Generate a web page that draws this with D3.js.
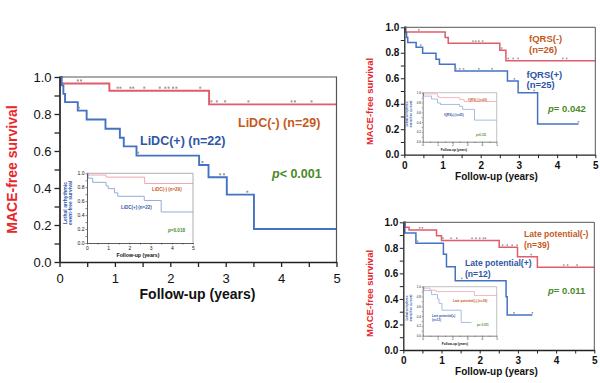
<!DOCTYPE html>
<html><head><meta charset="utf-8">
<script src="https://cdn.jsdelivr.net/npm/d3@7"></script>
<style>body{margin:0;background:#fff}svg{display:block}</style>
</head><body><svg id="c" width="600" height="383"></svg>
<script>
// ---------- DATA ----------
const xTickYears = [0, 1, 2, 3, 4, 5];
const yTickVals = [0, 0.2, 0.4, 0.6, 0.8, 1.0];

// Panel A: LiDC
const lidcNeg = [[0,1],[0.03,0.965],[0.9,0.926],[2.7,0.852],[5,0.852]];
const lidcPos = [[0,1],[0.04,0.955],[0.07,0.909],[0.1,0.864],[0.33,0.818],[0.49,0.77],[0.83,0.72],[1.09,0.672],[1.16,0.625],[1.39,0.575],[2.52,0.524],[2.69,0.458],[3.02,0.364],[3.51,0.178],[5,0.178]];
const lidcNegCens = [0.33,0.39,1.05,1.1,1.28,1.33,1.53,1.81,1.91,1.97,2.05,2.11,2.54,2.74,2.84,2.99,3.41,4.19,4.25,4.55];
const lidcPosCens = [0.35,1.42,2.58,2.9,2.97,3.39];
const insLidcNeg = [[0,1],[0.05,0.975],[0.9,0.945],[2.72,0.853],[5,0.853]];
const insLidcPos = [[0,1],[0.05,0.93],[0.27,0.87],[0.9,0.82],[1.0,0.78],[1.3,0.72],[1.45,0.67],[2.7,0.61],[3.5,0.445],[5,0.445]];

// Panel B: fQRS
const fqrsNeg = [[0,1],[0.04,0.963],[1.07,0.92],[1.15,0.874],[2.5,0.82],[2.66,0.738],[5,0.738]];
const fqrsPos = [[0,1],[0.03,0.96],[0.06,0.92],[0.09,0.88],[0.31,0.843],[0.48,0.796],[0.83,0.749],[0.92,0.71],[1.33,0.657],[2.7,0.578],[2.98,0.487],[3.49,0.241],[4.56,0.241]];
const fqrsNegCens = [0.38,1.07,1.8,1.87,1.95,2.05,2.55,2.72,2.85,2.98,4.15,4.25];
const fqrsPosCens = [0.43,1.35,1.45,1.55,1.95,2.3,2.88,2.98,3.4,4.56];
const insFqrsNeg = [[0,1],[0.05,0.975],[1.0,0.92],[1.1,0.9],[2.5,0.86],[2.8,0.82],[5,0.82]];
const insFqrsPos = [[0,1],[0.05,0.93],[0.6,0.87],[1.0,0.79],[1.2,0.76],[2.5,0.72],[2.7,0.66],[3.5,0.44],[5,0.44]];

// Panel C: Late potential
const lpNeg = [[0,1],[0.05,0.962],[0.15,0.94],[0.87,0.895],[1.0,0.858],[2.51,0.804],[2.99,0.73],[3.51,0.648],[5,0.648]];
const lpPos = [[0,1],[0.04,0.917],[0.33,0.835],[1.05,0.75],[1.13,0.652],[1.36,0.543],[2.69,0.417],[2.72,0.274],[3.38,0.274]];
const lpNegCens = [0.43,0.5,1.04,1.25,1.4,1.8,1.9,2.0,2.1,2.15,2.6,2.72,2.85,2.98,3.35,4.2,4.3,4.55];
const lpPosCens = [0.37,1.53,2.9,3.38];
const insLpNeg = [[0,1],[0.08,0.97],[0.5,0.93],[0.9,0.9],[3.5,0.82],[5,0.82]];
const insLpPos = [[0,1],[0.08,0.92],[0.6,0.84],[1.0,0.75],[1.1,0.66],[1.3,0.52],[2.6,0.27],[3.3,0.27]];

// ---------- STYLE ----------
const FONT = '"Liberation Sans", Arial, sans-serif';
const RED_LINE = '#e35a6b', BLUE_LINE = '#4472c4';
const RED_LIGHT = '#f2a6ae', BLUE_LIGHT = '#93acdc';
const ORANGE = '#c55a1e', BLUE_TXT = '#2e56a6', GREEN = '#4a8a2a', YRED = '#e8262c';

const svg = d3.select('#c');

function levelAt(steps, t) {
  let v = steps[0][1];
  for (const [s, val] of steps) if (s <= t) v = val;
  return v;
}

function makeScales(o) {
  return {
    x: d3.scaleLinear().domain([0, 5]).range([o.x0, o.x1]),
    y: d3.scaleLinear().domain([0, 1]).range([o.y0, o.y1])
  };
}

function axes(g, x, y, o) {
  g.append('path').attr('d', `M${x(0)},${y(1)}H${x(5)}V${y(0)}`)
    .attr('fill', 'none').attr('stroke', o.frame).attr('stroke-width', o.frameW);
  const yv = d3.range(0, 11).map(i => i / 10);
  const xv = d3.range(0, 11).map(i => i / 2);
  const ya = g.append('g').attr('transform', `translate(${x(0)},0)`)
    .call(d3.axisLeft(y).tickValues(yv).tickSize(o.ts).tickSizeOuter(0).tickPadding(o.ypad)
      .tickFormat((d, i) => i % 2 === 0 ? yTickVals[i / 2].toFixed(1) : ''));
  const xa = g.append('g').attr('transform', `translate(0,${y(0)})`)
    .call(d3.axisBottom(x).tickValues(xv).tickSize(o.ts).tickSizeOuter(0).tickPadding(o.xpad)
      .tickFormat((d, i) => i % 2 === 0 ? String(xTickYears[i / 2]) : ''));
  [ya, xa].forEach(a => {
    a.select('.domain').attr('stroke', o.axis).attr('stroke-width', o.aw);
    a.selectAll('.tick line').attr('stroke', o.axis).attr('stroke-width', o.tw);
    a.selectAll('text').attr('font-size', o.fs).attr('font-weight', o.fwt)
      .attr('fill', '#111').attr('font-family', FONT);
  });
}

function curves(g, x, y, series, o) {
  const line = d3.line().x(d => x(d[0])).y(d => y(d[1])).curve(d3.curveStepAfter);
  series.forEach(s => {
    g.append('path').datum(s.steps).attr('d', line).attr('fill', 'none')
      .attr('stroke', s.color).attr('stroke-width', o.lw);
    if (s.cens) {
      g.selectAll(null).data(s.cens).enter().append('rect')
        .attr('x', t => x(t) - o.cs / 2)
        .attr('y', t => y(levelAt(s.steps, t)) - o.coff - o.cs / 2)
        .attr('width', o.cs).attr('height', o.cs).attr('fill', '#9a9a9a');
    }
  });
}

function txt(g, x, y, s, o) {
  const t = g.append('text').attr('x', x).attr('y', y)
    .attr('font-family', FONT).attr('font-size', o.fs).attr('font-weight', o.fw || 'bold')
    .attr('fill', o.color || '#111').attr('text-anchor', o.anchor || 'start');
  if (o.rot) t.attr('transform', `rotate(-90,${x},${y})`);
  if (o.italicP) {
    t.append('tspan').attr('font-style', 'italic').text('p');
    t.append('tspan').text(s);
  } else t.text(s);
  return t;
}

function panel(o) {
  const g = svg.append('g');
  const { x, y } = makeScales(o);
  curves(g, x, y, o.series, o);
  axes(g, x, y, o);
  return { g, x, y };
}

// ---------- PANEL A (main) ----------
panel({
  x0: 59.5, x1: 336.5, y0: 262, y1: 77,
  ts: 5, ypad: 3, xpad: 7, fs: 13, fwt: 'normal', aw: 1.7, tw: 1.3, axis: '#222',
  frame: '#555', frameW: 1.2, lw: 1.9, cs: 2, coff: 3,
  series: [
    { steps: lidcNeg, color: RED_LINE, cens: lidcNegCens },
    { steps: lidcPos, color: BLUE_LINE, cens: lidcPosCens }
  ]
});
txt(svg, 16.5, 169.5, 'MACE-free survival', { fs: 14, color: YRED, anchor: 'middle', rot: true });
txt(svg, 197.5, 299, 'Follow-up (years)', { fs: 14, anchor: 'middle' });
txt(svg, 238, 127, 'LiDC(-) (n=29)', { fs: 12.5, color: ORANGE });
txt(svg, 140, 145, 'LiDC(+) (n=22)', { fs: 12.5, color: BLUE_TXT });
txt(svg, 272, 178, '< 0.001', { fs: 12.5, color: GREEN, italicP: true });

// inset A
panel({
  x0: 87, x1: 193, y0: 243, y1: 173.3,
  ts: 1.5, ypad: 1, xpad: 1.5, fs: 5, fwt: 'normal', aw: 0.8, tw: 0.6, axis: '#333',
  frame: '#999', frameW: 0.8, lw: 1, cs: 1, coff: 1.2,
  series: [
    { steps: insLidcNeg, color: RED_LIGHT, cens: null },
    { steps: insLidcPos, color: BLUE_LIGHT, cens: null }
  ]
});
txt(svg, 66.5, 203, 'Lethal arrhythmic', { fs: 5, color: BLUE_TXT, anchor: 'middle', rot: true });
txt(svg, 71.8, 203, 'event-free survival', { fs: 5, color: BLUE_TXT, anchor: 'middle', rot: true });
txt(svg, 138, 257, 'Follow-up (years)', { fs: 5.2, anchor: 'middle' });
txt(svg, 152, 191, 'LiDC(-) (n=29)', { fs: 4.5, color: ORANGE });
txt(svg, 121, 209, 'LiDC(+) (n=22)', { fs: 4.5, color: BLUE_TXT });
txt(svg, 168, 231.5, '=0.018', { fs: 4.6, color: GREEN, italicP: true });

// ---------- PANEL B (fQRS) ----------
panel({
  x0: 404.3, x1: 595.3, y0: 154.7, y1: 27.3,
  ts: 3.5, ypad: 1.5, xpad: 4, fs: 10, fwt: 'bold', aw: 1.3, tw: 1, axis: '#222',
  frame: '#555', frameW: 1, lw: 1.5, cs: 1.6, coff: 2.2,
  series: [
    { steps: fqrsNeg, color: RED_LINE, cens: fqrsNegCens },
    { steps: fqrsPos, color: BLUE_LINE, cens: fqrsPosCens }
  ]
});
txt(svg, 373, 101.5, 'MACE-free survival', { fs: 9.5, color: YRED, anchor: 'middle', rot: true });
txt(svg, 496.5, 179.5, 'Follow-up (years)', { fs: 10, anchor: 'middle' });
txt(svg, 529, 42, 'fQRS(-)', { fs: 9.5, color: ORANGE });
txt(svg, 529, 53, '(n=26)', { fs: 9.5, color: ORANGE });
txt(svg, 526.5, 77.5, 'fQRS(+)', { fs: 9.5, color: BLUE_TXT });
txt(svg, 526.5, 88, '(n=25)', { fs: 9.5, color: BLUE_TXT });
txt(svg, 548, 112, '= 0.042', { fs: 9.5, color: GREEN, italicP: true });

panel({
  x0: 422.7, x1: 496.7, y0: 141.7, y1: 92.7,
  ts: 1, ypad: 0.8, xpad: 1, fs: 3, fwt: 'normal', aw: 0.6, tw: 0.5, axis: '#333',
  frame: '#999', frameW: 0.6, lw: 0.8, cs: 0.8, coff: 1,
  series: [
    { steps: insFqrsNeg, color: RED_LIGHT, cens: null },
    { steps: insFqrsPos, color: BLUE_LIGHT, cens: null }
  ]
});
txt(svg, 408, 114, 'Lethal arrhythmic', { fs: 3, color: BLUE_TXT, anchor: 'middle', rot: true });
txt(svg, 411.5, 114, 'event-free survival', { fs: 3, color: BLUE_TXT, anchor: 'middle', rot: true });
txt(svg, 454, 151, 'Follow-up (years)', { fs: 3.2, anchor: 'middle' });
txt(svg, 468, 101, 'fQRS(-) (n=26)', { fs: 2.8, color: ORANGE });
txt(svg, 444, 116, 'fQRS(+) (n=25)', { fs: 2.8, color: BLUE_TXT });
txt(svg, 476, 135.5, '=0.121', { fs: 2.8, color: GREEN, italicP: true });

// ---------- PANEL C (late potential) ----------
panel({
  x0: 403.3, x1: 594.3, y0: 350, y1: 222.3,
  ts: 3.5, ypad: 1.5, xpad: 3.5, fs: 10, fwt: 'bold', aw: 1.3, tw: 1, axis: '#222',
  frame: '#555', frameW: 1, lw: 1.5, cs: 1.6, coff: 2.2,
  series: [
    { steps: lpNeg, color: RED_LINE, cens: lpNegCens },
    { steps: lpPos, color: BLUE_LINE, cens: lpPosCens }
  ]
});
txt(svg, 373, 293.5, 'MACE-free survival', { fs: 9.5, color: YRED, anchor: 'middle', rot: true });
txt(svg, 496.5, 374.5, 'Follow-up (years)', { fs: 10, anchor: 'middle' });
txt(svg, 524, 237, 'Late potential(-)', { fs: 8.6, color: ORANGE });
txt(svg, 524, 247.5, '(n=39)', { fs: 8.6, color: ORANGE });
txt(svg, 465, 266, 'Late potential(+)', { fs: 8.6, color: BLUE_TXT });
txt(svg, 465, 277, '(n=12)', { fs: 8.6, color: BLUE_TXT });
txt(svg, 548, 293.5, '= 0.011', { fs: 9.5, color: GREEN, italicP: true });

panel({
  x0: 422.7, x1: 496.7, y0: 335.7, y1: 286.7,
  ts: 1, ypad: 0.8, xpad: 1, fs: 3, fwt: 'normal', aw: 0.6, tw: 0.5, axis: '#333',
  frame: '#999', frameW: 0.6, lw: 0.8, cs: 0.8, coff: 1,
  series: [
    { steps: insLpNeg, color: RED_LIGHT, cens: null },
    { steps: insLpPos, color: BLUE_LIGHT, cens: null }
  ]
});
txt(svg, 408, 308, 'Lethal arrhythmic', { fs: 3, color: BLUE_TXT, anchor: 'middle', rot: true });
txt(svg, 411.5, 308, 'event-free survival', { fs: 3, color: BLUE_TXT, anchor: 'middle', rot: true });
txt(svg, 455, 345, 'Follow-up (years)', { fs: 3.2, anchor: 'middle' });
txt(svg, 453, 302, 'Late potential(-) (n=39)', { fs: 3.2, color: ORANGE });
txt(svg, 432, 316.5, 'Late potential(+)', { fs: 3, color: BLUE_TXT });
txt(svg, 432, 321, '(n=12)', { fs: 3, color: BLUE_TXT });
txt(svg, 477, 325.5, '= 0.011', { fs: 3, color: GREEN, italicP: true });
</script></body></html>
